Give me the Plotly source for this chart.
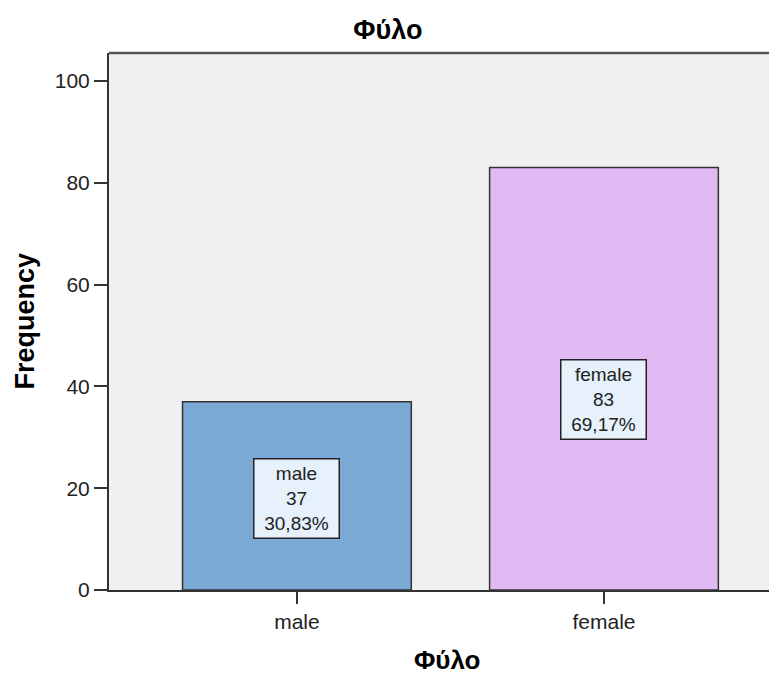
import plotly.graph_objects as go

categories = ["male", "female"]
counts = [37, 83]
percent_labels = ["30,83%", "69,17%"]
bar_colors = ["#7BA9D6", "#E0B9F2"]
y_ticks = [0, 20, 40, 60, 80, 100]

FONT = "Liberation Sans, Arial"

fig = go.Figure()
fig.add_trace(go.Bar(
    x=categories, y=counts, width=0.745,
    marker=dict(color=bar_colors, line=dict(color="#333333", width=1.5)),
    hoverinfo="skip",
))

label_y = [18, 37.5]
for c, n, p, ly in zip(categories, counts, percent_labels, label_y):
    fig.add_annotation(
        x=c, y=ly, xref="x", yref="y",
        text=f"{c}<br>{n}<br>{p}", showarrow=False,
        font=dict(family=FONT, size=19, color="#222222"),
        bgcolor="#E6F1FC", bordercolor="#222222", borderwidth=1.5, borderpad=1,
        width=82, height=76, align="center", valign="middle",
    )

# axis titles as annotations for precise placement
fig.add_annotation(
    text="<b>Φύλο</b>", xref="paper", yref="paper", x=0.5, y=0,
    xshift=4, yshift=-70, yanchor="middle", showarrow=False,
    font=dict(family=FONT, size=26, color="black"),
)
fig.add_annotation(
    text="<b>Frequency</b>", xref="paper", yref="paper", x=0, y=0.5,
    xshift=-85, xanchor="center", yanchor="middle", textangle=-90, showarrow=False,
    font=dict(family=FONT, size=27, color="black"),
)

# top frame line
fig.add_shape(type="line", xref="paper", yref="paper", x0=0, x1=1, y0=1, y1=1,
              line=dict(color="#555555", width=2.5))

fig.update_layout(
    width=769, height=666,
    margin=dict(l=101, r=0, t=45, b=84),
    paper_bgcolor="white", plot_bgcolor="#F0F0F0",
    showlegend=False,
    title=dict(text="<b>Φύλο</b>", x=0.494, xref="container", xanchor="center",
               y=0.967, yref="container", yanchor="middle",
               font=dict(family=FONT, size=27, color="black")),
    font=dict(family=FONT, color="#222222"),
)
fig.update_xaxes(
    range=[-0.612, 1.5635], showgrid=False, zeroline=False,
    showline=True, linecolor="#333333", linewidth=2,
    ticks="outside", ticklen=12, tickwidth=2, tickcolor="#333333",
    tickfont=dict(size=21, color="#222222"),
)
fig.update_yaxes(
    range=[0, 105.5], showgrid=False, zeroline=False,
    showline=True, linecolor="#333333", linewidth=2,
    tickvals=y_ticks, ticks="outside", ticklen=13, tickwidth=2, tickcolor="#333333",
    tickfont=dict(size=21, color="#222222"),
)

fig.write_html("out.html")
